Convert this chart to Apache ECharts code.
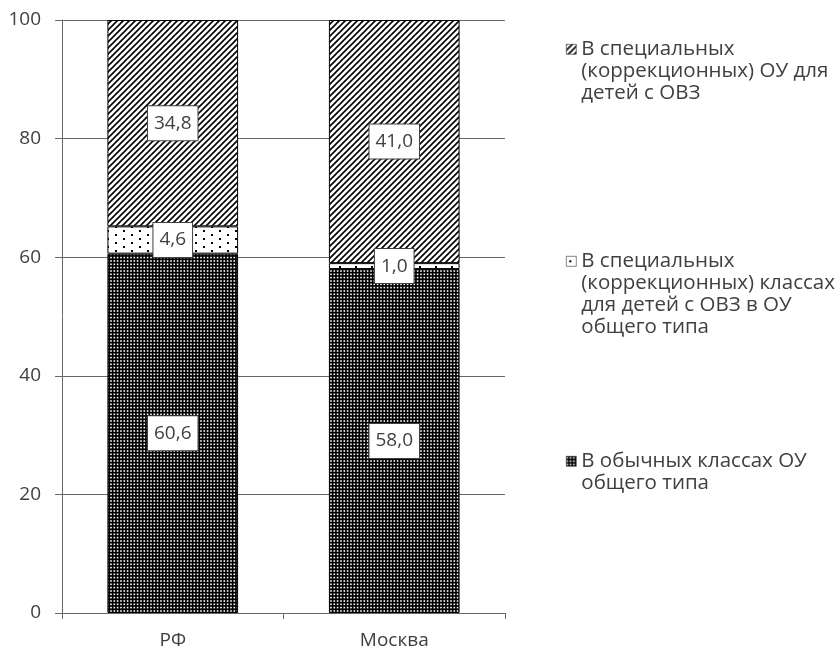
<!DOCTYPE html>
<html><head><meta charset="utf-8">
<script src="https://cdn.jsdelivr.net/npm/echarts@6/dist/echarts.min.js"></script>
<style>html,body{margin:0;padding:0;background:#fff}#c{width:840px;height:650px}</style>
</head><body><div id="c"></div>
<script>
const categories = ['РФ', 'Москва'];
const seriesNames = [
  'В обычных классах ОУ\nобщего типа',
  'В специальных\n(коррекционных) классах\nдля детей с ОВЗ в ОУ\nобщего типа',
  'В специальных\n(коррекционных) ОУ для\nдетей с ОВЗ'
];
const ordinary = [60.6, 58.0];
const specialClasses = [4.6, 1.0];
const specialSchools = [34.8, 41.0];
const yTicks = [0, 20, 40, 60, 80, 100];

function makeTile(w, h, draw) {
  const c = document.createElement('canvas');
  c.width = w; c.height = h;
  const g = c.getContext('2d');
  draw(g, w, h);
  return { image: c, repeat: 'repeat' };
}
const densePat = makeTile(10, 10, (g) => {
  g.fillStyle = '#000'; g.fillRect(0, 0, 10, 10);
  g.fillStyle = '#fff';
  [0.2, 3.5, 6.8].forEach(x => [0.2, 3.5, 6.8].forEach(y => g.fillRect(x, y, 1.6, 1.6)));
});
const sparsePat = makeTile(16, 8, (g) => {
  g.fillStyle = '#fff'; g.fillRect(0, 0, 16, 8);
  g.fillStyle = '#000';
  g.fillRect(3, 2, 2, 2);
  g.fillRect(11, 6, 2, 2);
});
const hatchPat = makeTile(6, 6, (g) => {
  g.fillStyle = '#fff'; g.fillRect(0, 0, 6, 6);
  g.strokeStyle = '#000'; g.lineWidth = 1.6;
  g.beginPath();
  g.moveTo(-1, 7); g.lineTo(7, -1);
  g.moveTo(-4, 4); g.lineTo(4, -4);
  g.moveTo(2, 10); g.lineTo(10, 2);
  g.stroke();
});

const font = '"Open Sans", sans-serif';
const txt = '#404040';
const axisCol = '#5f6b6b';
const labelCfg = {
  show: true, position: 'inside',
  formatter: p => p.value.toFixed(1).replace('.', ','),
  color: txt, fontFamily: font, fontSize: 19, lineHeight: 24,
  backgroundColor: '#fff', borderColor: '#404040', borderWidth: 1,
  padding: [6, 6, 4, 6]
};
function mkSeries(name, data, pat) {
  return {
    name, type: 'bar', stack: 's', data, barWidth: '59%',
    itemStyle: { color: pat, borderColor: '#000', borderWidth: 1 },
    label: labelCfg, emphasis: { disabled: true }
  };
}
// icon: small square at the top of a tall box so it lines up with the first text line
function mkLegend(name, top, lines) {
  const h = lines * 22;
  return {
    data: [name], left: 561, top, orient: 'vertical',
    icon: 'path://M0 0L0.01 0M0 6H10V16H0ZM0 ' + h + 'L0.01 ' + h,
    itemWidth: 10, itemHeight: h, itemGap: 0,
    itemStyle: { borderWidth: 0.6, borderColor: '#333' },
    textStyle: { color: txt, fontFamily: font, fontSize: 20.5, lineHeight: 22 },
    selectedMode: false
  };
}
const chart = echarts.init(document.getElementById('c'));
chart.setOption({
  animation: false,
  grid: { left: 62, right: 335, top: 20, bottom: 37 },
  legend: [
    mkLegend(seriesNames[2], 33, 3),
    mkLegend(seriesNames[1], 245, 4),
    mkLegend(seriesNames[0], 445, 2)
  ],
  xAxis: {
    type: 'category', data: categories,
    axisLine: { lineStyle: { color: axisCol, width: 1 } },
    axisTick: { show: true, alignWithLabel: false, length: 6, lineStyle: { color: axisCol } },
    axisLabel: { color: txt, fontFamily: font, fontSize: 19, margin: 18 }
  },
  yAxis: {
    type: 'value', min: yTicks[0], max: yTicks[yTicks.length - 1], interval: 20,
    axisLine: { show: true, lineStyle: { color: axisCol } },
    axisTick: { show: true, length: 7, lineStyle: { color: axisCol } },
    axisLabel: { color: txt, fontFamily: font, fontSize: 19, margin: 21 },
    splitLine: { show: true, lineStyle: { color: axisCol, width: 1 } }
  },
  series: [
    mkSeries(seriesNames[0], ordinary, densePat),
    mkSeries(seriesNames[1], specialClasses, sparsePat),
    mkSeries(seriesNames[2], specialSchools, hatchPat)
  ]
});
</script></body></html>
